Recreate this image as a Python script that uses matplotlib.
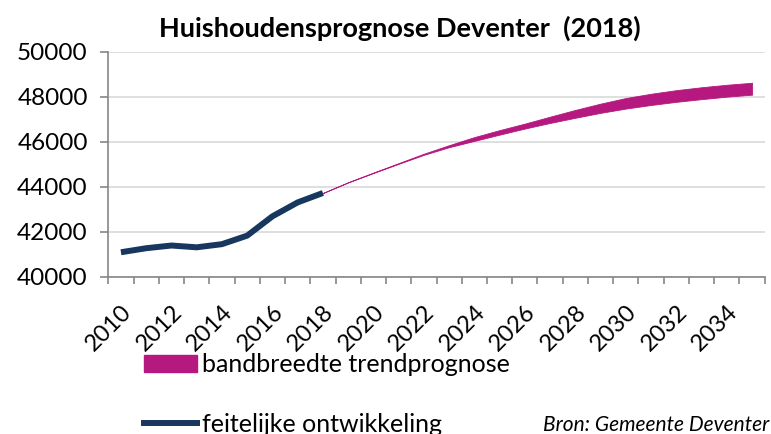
import matplotlib
matplotlib.use('Agg')
import matplotlib.pyplot as plt
from matplotlib.patches import Patch
from matplotlib.lines import Line2D
import numpy as np

plt.rcParams['font.family'] = ['Lato', 'DejaVu Sans']

# categories on the x axis
years = list(range(2010, 2036))

# actual number of households (feitelijke ontwikkeling)
actual_years = list(range(2010, 2019))
actual = [41080, 41260, 41380, 41300, 41440, 41820, 42680, 43300, 43720]

# forecast band (bandbreedte trendprognose)
band_years = list(range(2018, 2036))
band_low = [43720, 44190, 44610, 45020, 45420, 45760, 46040, 46320, 46590,
            46840, 47070, 47290, 47480, 47640, 47780, 47900, 48010, 48100]
band_high = [43720, 44200, 44630, 45050, 45470, 45850, 46210, 46520, 46810,
             47120, 47420, 47700, 47950, 48140, 48300, 48430, 48540, 48630]

title = 'Huishoudensprognose Deventer  (2018)'
source = 'Bron: Gemeente Deventer'

navy = '#17375e'
pink = '#b5197f'
axis_grey = '#868686'

fig = plt.figure(figsize=(7.71, 4.34), dpi=100)
ax = fig.add_axes([0.1405, 0.3629, 0.8513, 0.5173])

pos = {y: i for i, y in enumerate(years)}
bx = [pos[y] for y in band_years]
ax.fill_between(bx, band_low, band_high, color=pink, lw=0.6, edgecolor=pink)
ax.plot([pos[y] for y in actual_years], actual, color=navy, lw=4.3,
        solid_capstyle='butt', zorder=3)

ax.set_xlim(-0.5, len(years) - 0.5)
ax.set_ylim(40000, 50000)
ax.set_yticks(np.arange(40000, 50001, 2000))
ax.yaxis.grid(True, color='#d9d9d9', lw=1.2)
ax.set_axisbelow(True)

# labels every other year, tick marks between categories
ax.set_xticks(range(0, len(years), 2))
ax.set_xticklabels([str(y) for y in years[::2]], rotation=45,
                   ha='right', va='top', rotation_mode='anchor')
ax.set_xticks(np.arange(-0.5, len(years), 1), minor=True)
ax.tick_params(axis='x', which='major', length=0, pad=18, labelsize=17)
ax.tick_params(axis='x', which='minor', length=5, color=axis_grey, width=1.2)
ax.tick_params(axis='y', length=5.8, color=axis_grey, width=1.2, pad=9,
               labelsize=17.5)

for s in ['top', 'right']:
    ax.spines[s].set_visible(False)
for s in ['left', 'bottom']:
    ax.spines[s].set_color(axis_grey)
    ax.spines[s].set_linewidth(1.2)

fig.text(0.519, 0.935, title, ha='center', va='center', fontsize=19.5,
         fontweight='bold')

handles = [Patch(facecolor=pink, edgecolor=pink),
           Line2D([0], [0], color=navy, lw=4.3)]
labels = ['bandbreedte trendprognose', 'feitelijke ontwikkeling']
fig.legend(handles, labels, loc='upper left', bbox_to_anchor=(0.1868, 0.186),
           frameon=False, fontsize=18, handlelength=2.1, handleheight=0.7,
           handletextpad=0.2, labelspacing=1.45, borderaxespad=0,
           borderpad=0)

fig.text(0.998, 0.021, source, ha='right', va='center', fontsize=15,
         style='italic')

fig.savefig('out.png', dpi=100)
